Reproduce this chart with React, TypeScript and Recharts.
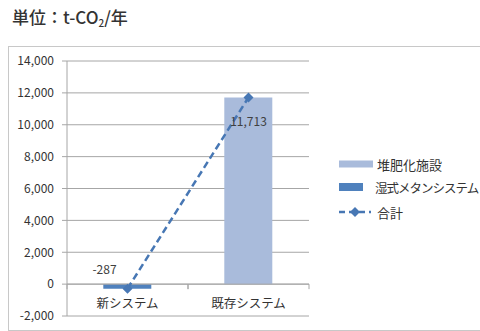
import React from 'react';
import { ComposedChart, Bar, Line, XAxis, YAxis, CartesianGrid, ReferenceLine, LabelList } from 'recharts';

const categories = ['新システム', '既存システム'];
const compostValues = [0, 11713];
const methaneValues = [-287, 0];
const totalValues = [-287, 11713];
const yTicks = [-2000, 0, 2000, 4000, 6000, 8000, 10000, 12000, 14000];
const seriesNames = ['堆肥化施設', '湿式メタンシステム', '合計'];

const data = categories.map((c, i) => ({
  cat: c,
  compost: compostValues[i],
  methane: methaneValues[i],
  total: totalValues[i],
}));

const FONT = '"Noto Sans CJK JP", "Noto Sans", sans-serif';
const W = 480;
const H = 331;
const M = { top: 61, right: 171, bottom: 0, left: 8 };
const Y_W = 59;
const X_H = 15;
const PLOT_LEFT = M.left + Y_W;
const PLOT_W = W - M.right - PLOT_LEFT;
const PLOT_TOP = M.top;
const PLOT_H = H - M.bottom - X_H - PLOT_TOP;
const Y_MIN = -2000;
const Y_MAX = 14000;
const zeroY = PLOT_TOP + PLOT_H * (Y_MAX - 0) / (Y_MAX - Y_MIN);

const LIGHT = '#A9BBDB';
const DARK = '#4F81BD';
const LINE = '#4777B4';
const GRID = '#A6A6A6';

const CatTick = (props: any) => {
  const { x, payload } = props;
  const band = PLOT_W / categories.length;
  return (
    <g>
      <line x1={x - band / 2} x2={x - band / 2} y1={zeroY} y2={zeroY + 5} stroke={GRID} />
      <line x1={x + band / 2} x2={x + band / 2} y1={zeroY} y2={zeroY + 5} stroke={GRID} />
      <text x={x} y={zeroY + 18} textAnchor="middle" dominantBaseline="central" fontSize={12.5} fill="#333" fontFamily={FONT}>
        {payload.value}
      </text>
    </g>
  );
};

const Diamond = (props: any) => {
  const { cx, cy } = props;
  if (cx == null || cy == null) return null;
  const r = 5;
  return <polygon points={`${cx},${cy - r} ${cx + r},${cy} ${cx},${cy + r} ${cx - r},${cy}`} fill={LINE} />;
};

const TotalLabel = (props: any) => {
  const { x, y, value, index } = props;
  const dx = index === 0 ? -23 : 0;
  const dy = index === 0 ? -20 : 23;
  return (
    <text x={x + dx} y={y + dy} textAnchor="middle" dominantBaseline="central" fontSize={12} fill="#404040" fontFamily={FONT}>
      {Number(value).toLocaleString('en-US')}
    </text>
  );
};

const LegendBox = () => (
  <svg width={141} height={80} style={{ position: 'absolute', left: 339, top: 150, display: 'block', overflow: 'visible' }}>
    <rect x={0} y={10.5} width={34} height={7} fill={LIGHT} />
    <text x={38} y={14} dominantBaseline="central" fontSize={13} fill="#333" fontFamily={FONT}>{seriesNames[0]}</text>
    <rect x={0} y={33} width={24} height={8} fill={DARK} />
    <text x={36} y={37} dominantBaseline="central" fontSize={12.5} letterSpacing={-1} fill="#333" fontFamily={FONT}>{seriesNames[1]}</text>
    <line x1={0} x2={32} y1={62} y2={62} stroke={LINE} strokeWidth={2.5} strokeDasharray="6 4" />
    <polygon points="16,57 21,62 16,67 11,62" fill={LINE} />
    <text x={38} y={62} dominantBaseline="central" fontSize={13} fill="#333" fontFamily={FONT}>{seriesNames[2]}</text>
  </svg>
);

export default function App() {
  return (
    <div style={{ position: 'absolute', left: 0, top: 0, width: W, height: H, overflow: 'hidden', background: '#fff', fontFamily: FONT }}>
      <div style={{ position: 'absolute', left: 12, top: 6, fontSize: 17, lineHeight: '22px', color: '#333', whiteSpace: 'nowrap', fontWeight: 500 }}>
        単位：t-CO<sub style={{ fontSize: 10, verticalAlign: '-3px' }}>2</sub>/年
      </div>
      <div style={{ position: 'absolute', left: 8, top: 46, width: 480, height: 283, border: '1px solid #C8C8C8' }} />
      <div style={{ position: 'absolute', left: 0, top: 0 }}>
        <ComposedChart width={W} height={H} data={data} margin={M} barCategoryGap="30%">
          <CartesianGrid vertical={false} stroke={GRID} strokeWidth={1} />
          <XAxis dataKey="cat" axisLine={false} tickLine={false} height={X_H} tick={<CatTick />} interval={0} />
          <YAxis
            width={Y_W}
            domain={[Y_MIN, Y_MAX]}
            ticks={yTicks}
            interval={0}
            axisLine={{ stroke: GRID }}
            tickLine={{ stroke: GRID }}
            tickSize={5}
            tickMargin={8}
            tick={{ fontSize: 12, fill: '#333', fontFamily: FONT }}
            tickFormatter={(v: number) => v.toLocaleString('en-US')}
          />
          <ReferenceLine y={0} stroke={GRID} strokeWidth={1} />
          <Bar dataKey="compost" name={seriesNames[0]} stackId="s" fill={LIGHT} isAnimationActive={false} />
          <Bar dataKey="methane" name={seriesNames[1]} stackId="s" fill={DARK} isAnimationActive={false} />
          <Line
            dataKey="total"
            name={seriesNames[2]}
            stroke={LINE}
            strokeWidth={2.5}
            strokeDasharray="7 4"
            dot={<Diamond />}
            activeDot={false}
            isAnimationActive={false}
          >
            <LabelList dataKey="total" content={<TotalLabel />} />
          </Line>
        </ComposedChart>
      </div>
      <LegendBox />
    </div>
  );
}
